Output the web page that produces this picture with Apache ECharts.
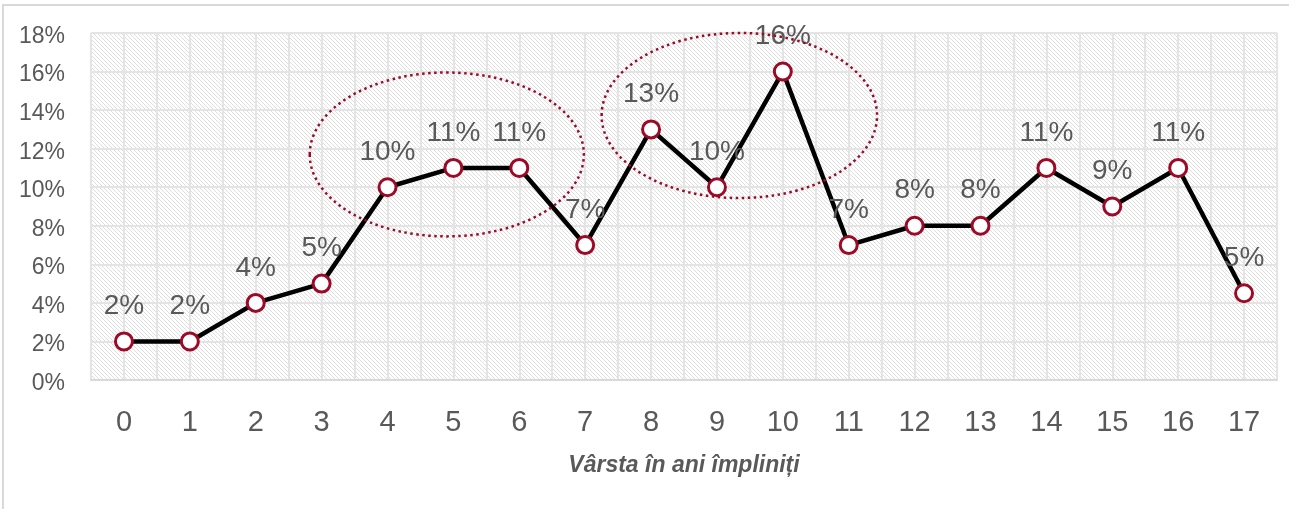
<!DOCTYPE html>
<html>
<head>
<meta charset="utf-8">
<script src="https://cdn.jsdelivr.net/npm/echarts@6/dist/echarts.min.js"></script>
<style>
	html, body { margin: 0; padding: 0; background: #fff; }
	#container { width: 1289px; height: 509px; }
</style>
</head>
<body>
<div id="container"></div>
<script>
// varste (ani impliniti) si procente
var ages = ['0', '1', '2', '3', '4', '5', '6', '7', '8', '9', '10', '11', '12', '13', '14', '15', '16', '17'];
var shares = [2, 2, 4, 5, 10, 11, 11, 7, 13, 10, 16, 7, 8, 8, 11, 9, 11, 4.5];
var yTicks = [0, 2, 4, 6, 8, 10, 12, 14, 16, 18];
// zonele marcate cu elipsa: centru (categorie, procent) si raze (categorii, procente)
var highlights = [
	{ cx : 4.9, cy : 11.7, rx : 2.08, ry : 4.25 },
	{ cx : 9.34, cy : 13.72, rx : 2.09, ry : 4.28 }
];

var halfTicks = [];
for (var i = 0; i < ages.length * 2; i++) {
	halfTicks.push('h' + i);
}

// fundal hasurat
function makeHatch() {
	var c = document.createElement('canvas');
	c.width = 4;
	c.height = 4;
	var ctx = c.getContext('2d');
	ctx.fillStyle = '#ffffff';
	ctx.fillRect(0, 0, 4, 4);
	ctx.fillStyle = '#dedede';
	for (var k = 0; k < 4; k++) {
		ctx.fillRect(k, k, 1, 1);
	}
	return c;
}

var dom = document.getElementById('container');
var myChart = echarts.init(dom, null, { renderer : 'canvas' });
var textColor = '#595959';
var font = '"Liberation Sans", Arial, sans-serif';

var option = {
	animation : false,
	backgroundColor : '#ffffff',
	grid : {
		left : 91,
		right : 12,
		top : 33,
		bottom : 129,
		show : true,
		borderWidth : 0,
		backgroundColor : { image : makeHatch(), repeat : 'repeat' }
	},
	xAxis : [ {
		type : 'category',
		data : ages,
		boundaryGap : true,
		axisLine : { show : true, lineStyle : { color : '#d9d9d9', width : 2 } },
		axisTick : { show : false },
		splitLine : { show : false },
		axisLabel : { color : textColor, fontSize : 29, fontFamily : font, margin : 28 },
		name : 'Vârsta în ani împliniți',
		nameLocation : 'middle',
		nameGap : 74,
		nameTextStyle : { color : textColor, fontSize : 23, fontStyle : 'italic', fontWeight : 'bold', fontFamily : font }
	}, {
		type : 'category',
		data : halfTicks,
		boundaryGap : true,
		position : 'bottom',
		axisLine : { show : false },
		axisTick : { show : false },
		axisLabel : { show : false },
		splitLine : { show : true, lineStyle : { color : '#e4e4e4', width : 2 } }
	} ],
	yAxis : {
		type : 'value',
		min : yTicks[0],
		max : yTicks[yTicks.length - 1],
		interval : 2,
		axisLine : { show : false },
		axisTick : { show : false },
		axisLabel : {
			margin : 26,
			formatter : '{a|{value}%}',
			rich : {
				a : { color : textColor, fontSize : 23, fontFamily : font, padding : [7, 0, 0, 0] }
			}
		},
		splitLine : { show : true, lineStyle : { color : '#e4e4e4', width : 2 } }
	},
	series : [ {
		type : 'line',
		data : shares,
		xAxisIndex : 0,
		symbol : 'circle',
		symbolSize : 17,
		lineStyle : { color : '#000000', width : 4.5 },
		itemStyle : { color : '#ffffff', borderColor : '#9b0a27', borderWidth : 3 },
		label : {
			show : true,
			position : 'top',
			distance : 11,
			color : textColor,
			fontSize : 28,
			fontFamily : font,
			formatter : function(p) {
				return Math.round(p.value) + '%';
			}
		},
		z : 5
	} ]
};
myChart.setOption(option);

// elipsele punctate si chenarul graficului
var elements = [ {
	type : 'rect',
	shape : { x : 3, y : 5, width : 1320, height : 540 },
	style : { fill : 'none', stroke : '#d9d9d9', lineWidth : 2 },
	silent : true,
	z : 1
} ];
// axa de categorii rotunjeste valorile fractionare, deci interpolam intre categorii
var p0 = myChart.convertToPixel({ xAxisIndex : 0, yAxisIndex : 0 }, [0, 0]);
var p1 = myChart.convertToPixel({ xAxisIndex : 0, yAxisIndex : 0 }, [1, 1]);
var stepX = p1[0] - p0[0];
var stepY = p0[1] - p1[1];
for (var j = 0; j < highlights.length; j++) {
	var h = highlights[j];
	elements.push({
		type : 'ellipse',
		shape : {
			cx : p0[0] + h.cx * stepX,
			cy : p0[1] - h.cy * stepY,
			rx : h.rx * stepX,
			ry : h.ry * stepY
		},
		style : { fill : 'none', stroke : '#9b0a27', lineWidth : 2.5, lineDash : [2.5, 3.5] },
		silent : true,
		z : 10
	});
}
myChart.setOption({ graphic : { elements : elements } });
</script>
</body>
</html>
